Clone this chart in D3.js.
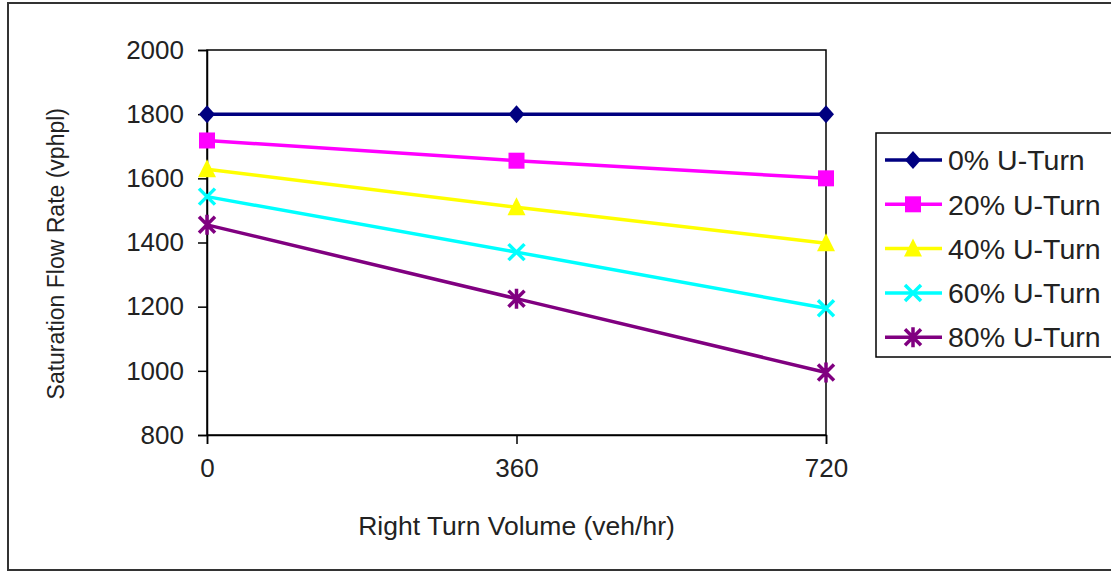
<!DOCTYPE html>
<html>
<head>
<meta charset="utf-8">
<script src="https://cdn.jsdelivr.net/npm/d3@7"></script>
<style>
  body { margin: 0; background: #fff; }
  text { font-family: "Liberation Sans", Arial, sans-serif; fill: #222; }
</style>
</head>
<body>
<svg id="chart" width="1111" height="573"></svg>
<script>
// data
var volumes = [0, 360, 720];
var seriesNames = ["0% U-Turn", "20% U-Turn", "40% U-Turn", "60% U-Turn", "80% U-Turn"];
var uturn0 = [1800, 1800, 1800];
var uturn20 = [1718, 1655, 1600];
var uturn40 = [1628, 1510, 1398];
var uturn60 = [1543, 1370, 1195];
var uturn80 = [1455, 1225, 995];
var yTicks = [800, 1000, 1200, 1400, 1600, 1800, 2000];

var allSeries = [uturn0, uturn20, uturn40, uturn60, uturn80];
var colors = ["#000080", "#ff00ff", "#ffff00", "#00ffff", "#800080"];
var shapes = ["diamond", "square", "triangle", "x", "star"];

var svg = d3.select("#chart");

// outer frame
svg.append("rect").attr("x", 8).attr("y", 3).attr("width", 1120).attr("height", 567)
    .attr("fill", "#fff").attr("stroke", "#333").attr("stroke-width", 2);

var x = d3.scaleLinear().domain([0, 720]).range([207, 826]);
var y = d3.scaleLinear().domain([800, 2000]).range([435, 50]);

// plot border
svg.append("rect").attr("x", x(0)).attr("y", y(2000))
    .attr("width", x(720) - x(0)).attr("height", y(800) - y(2000))
    .attr("fill", "none").attr("stroke", "#000").attr("stroke-width", 1.5);

var yAxis = svg.append("g").attr("transform", "translate(" + x(0) + ",0)")
    .call(d3.axisLeft(y).tickValues(yTicks).tickFormat(d3.format("d")).tickSize(9).tickPadding(14));
var xAxis = svg.append("g").attr("transform", "translate(0," + y(800) + ")")
    .call(d3.axisBottom(x).tickValues(volumes).tickFormat(d3.format("d")).tickSize(9).tickPadding(15));

[yAxis, xAxis].forEach(function (a) {
    a.select(".domain").attr("stroke", "#000").attr("stroke-width", 1.5);
    a.selectAll(".tick line").attr("stroke", "#000").attr("stroke-width", 1.5);
    a.selectAll(".tick text").attr("font-size", 26).attr("fill", "#222")
        .attr("font-family", "'Liberation Sans', Arial, sans-serif");
});

svg.append("text").attr("x", x(360)).attr("y", 526).attr("text-anchor", "middle")
    .attr("dy", "0.35em").attr("font-size", 26.5).text("Right Turn Volume (veh/hr)");
svg.append("text").attr("transform", "translate(56," + y(1365) + ") rotate(-90)")
    .attr("text-anchor", "middle").attr("dy", "0.35em")
    .attr("font-size", 23).text("Saturation Flow Rate (vphpl)");

function marker(sel, shape, color) {
    if (shape === "diamond") {
        sel.append("path").attr("d", "M0,-9L8,0L0,9L-8,0Z").attr("fill", color);
    } else if (shape === "square") {
        sel.append("rect").attr("x", -8).attr("y", -8).attr("width", 16).attr("height", 16).attr("fill", color);
    } else if (shape === "triangle") {
        sel.append("path").attr("d", "M0,-10L9,8L-9,8Z").attr("fill", color);
    } else if (shape === "x") {
        sel.append("path").attr("d", "M-8,-8L8,8M-8,8L8,-8").attr("stroke", color).attr("stroke-width", 3.5);
    } else {
        sel.append("path").attr("d", "M-8,-8L8,8M-8,8L8,-8M0,-10L0,10").attr("stroke", color).attr("stroke-width", 3.5);
    }
}

var line = d3.line().x(function (d, i) { return x(volumes[i]); }).y(function (d) { return y(d); });

allSeries.forEach(function (vals, s) {
    svg.append("path").attr("d", line(vals)).attr("fill", "none")
        .attr("stroke", colors[s]).attr("stroke-width", 3.5);
    vals.forEach(function (v, i) {
        var g = svg.append("g").attr("transform", "translate(" + x(volumes[i]) + "," + y(v) + ")");
        marker(g, shapes[s], colors[s]);
    });
});

// legend
var legend = svg.append("g");
legend.append("rect").attr("x", 876).attr("y", 133).attr("width", 260).attr("height", 224)
    .attr("fill", "#fff").attr("stroke", "#000").attr("stroke-width", 1.5);
seriesNames.forEach(function (name, s) {
    var ly = 160 + s * 44.3;
    legend.append("line").attr("x1", 885).attr("x2", 942).attr("y1", ly).attr("y2", ly)
        .attr("stroke", colors[s]).attr("stroke-width", 3.5);
    marker(legend.append("g").attr("transform", "translate(913," + ly + ")"), shapes[s], colors[s]);
    legend.append("text").attr("x", 948).attr("y", ly).attr("dy", "0.36em")
        .attr("font-size", 28.5).text(name);
});
</script>
</body>
</html>
